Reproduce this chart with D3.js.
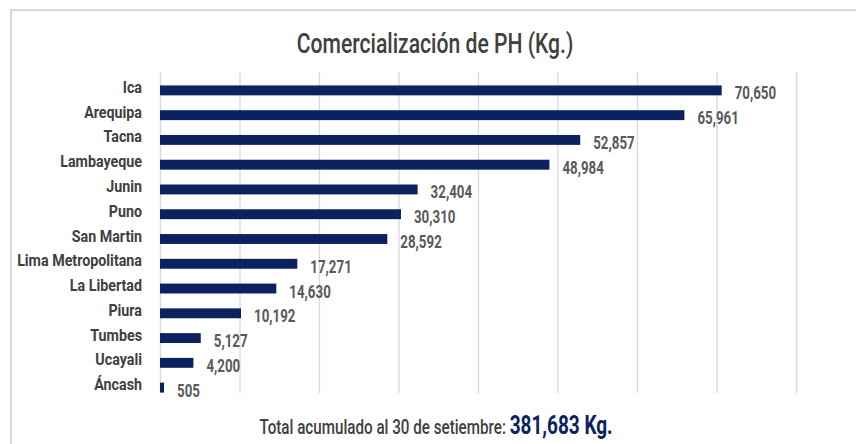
<!DOCTYPE html>
<html>
<head>
<meta charset="utf-8">
<script src="https://cdn.jsdelivr.net/npm/d3@7"></script>
<style>
  html, body { margin: 0; padding: 0; background: #fff; }
  svg { display: block; }
  text { font-family: "Roboto", "Liberation Sans", sans-serif; }
</style>
</head>
<body>
<svg id="chart" width="856" height="444"></svg>
<script>
const titleText = "Comercialización de PH (Kg.)";
const categories = ["Ica", "Arequipa", "Tacna", "Lambayeque", "Junin", "Puno", "San Martin",
  "Lima Metropolitana", "La Libertad", "Piura", "Tumbes", "Ucayali", "Áncash"];
const values = [70650, 65961, 52857, 48984, 32404, 30310, 28592, 17271, 14630, 10192, 5127, 4200, 505];
const tickValues = [0, 10000, 20000, 30000, 40000, 50000, 60000, 70000, 80000];
const footerLabel = "Total acumulado al 30 de setiembre: ";
const footerTotal = "381,683 Kg.";

const svg = d3.select("#chart");

// helper: place horizontally condensed text at (x,y) to mimic a narrow typeface
function placeCondensed(sel, xf, yf, sx) {
  sel.attr("transform", (d, i) => `translate(${xf(d, i)},${yf(d, i)}) scale(${sx},1)`)
     .attr("x", 0).attr("y", 0);
}

// outer frame
svg.append("rect")
  .attr("x", 11).attr("y", 10).attr("width", 900).attr("height", 500)
  .attr("fill", "#fff").attr("stroke", "#d9d9d9").attr("stroke-width", 2);

const x = d3.scaleLinear().domain([0, 80000]).range([160, 796]);
const y = d3.scaleBand().domain(categories).range([78, 400]).paddingInner(0.6).paddingOuter(0.3);

const gridTop = 72, gridBottom = 393;

// gridlines via axis
const grid = svg.append("g")
  .attr("transform", `translate(0,${gridTop})`)
  .call(d3.axisTop(x).tickValues(tickValues).tickSize(-(gridBottom - gridTop)).tickFormat(""));
grid.select(".domain").remove();
grid.selectAll(".tick line").attr("stroke", "#d9d9d9").attr("stroke-width", 1.3);

// title
svg.append("text")
  .datum(titleText)
  .attr("text-anchor", "middle")
  .attr("font-size", 28)
  .attr("font-weight", 500)
  .attr("fill", "#404040")
  .text(d => d)
  .call(placeCondensed, () => 435, () => 53, 0.755);

// bars
svg.append("g").selectAll("rect")
  .data(values)
  .join("rect")
  .attr("x", x(0))
  .attr("y", (d, i) => y(categories[i]))
  .attr("width", d => x(d) - x(0))
  .attr("height", y.bandwidth())
  .attr("fill", "#0b2160");

// category labels (axis)
const yAxis = svg.append("g")
  .attr("transform", `translate(${x(0)},0)`)
  .call(d3.axisLeft(y).tickSize(0).tickPadding(18));
yAxis.select(".domain").remove();
yAxis.selectAll(".tick text")
  .attr("font-family", '"Roboto", sans-serif')
  .attr("font-size", 17)
  .attr("font-weight", "bold")
  .attr("fill", "#404040")
  .attr("dy", null)
  .call(placeCondensed, () => -18, () => 2.5, 0.84);

// value labels
const fmt = d3.format(",");
svg.append("g").selectAll("text")
  .data(values)
  .join("text")
  .attr("font-size", 18)
  .attr("font-weight", "bold")
  .attr("fill", "#595959")
  .text(d => fmt(d))
  .call(placeCondensed, d => x(d) + 13, (d, i) => y(categories[i]) + y.bandwidth() / 2 + 9, 0.74);

// footer
const foot = svg.append("text")
  .datum(0)
  .attr("text-anchor", "middle");
foot.append("tspan")
  .attr("font-size", 20)
  .attr("font-weight", 500)
  .attr("fill", "#404040")
  .text(footerLabel);
foot.append("tspan")
  .attr("font-size", 25)
  .attr("font-weight", "bold")
  .attr("fill", "#0b2160")
  .text(footerTotal);
foot.call(placeCondensed, () => 436, () => 434, 0.76);
</script>
</body>
</html>
